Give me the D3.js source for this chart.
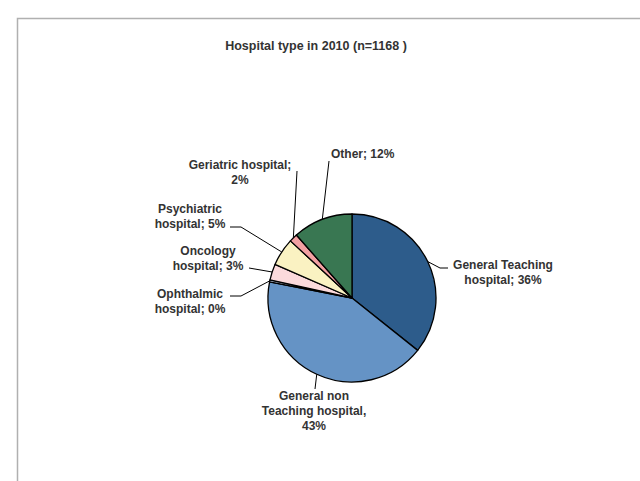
<!DOCTYPE html>
<html>
<head>
<meta charset="utf-8">
<script src="https://cdn.jsdelivr.net/npm/d3@7"></script>
<style>
  html, body { margin: 0; padding: 0; background: #ffffff; }
  svg { display: block; }
  text { font-family: "Liberation Sans", Arial, sans-serif; font-weight: bold; fill: #333333; }
</style>
</head>
<body>
<svg id="chart" width="640" height="481"></svg>
<script>
// ---- data ----
const categories = [
  "General Teaching hospital",
  "General non Teaching hospital",
  "Ophthalmic hospital",
  "Oncology hospital",
  "Psychiatric hospital",
  "Geriatric hospital",
  "Other"
];
const shares = [36.0, 42.7, 0.4, 3.1, 5.4, 1.6, 11.6];
const labelLines = [
  ["General Teaching", "hospital; 36%"],
  ["General non", "Teaching hospital,", "43%"],
  ["Ophthalmic", "hospital; 0%"],
  ["Oncology", "hospital; 3%"],
  ["Psychiatric", "hospital; 5%"],
  ["Geriatric hospital;", "2%"],
  ["Other; 12%"]
];
const title = "Hospital type in 2010 (n=1168 )";

// ---- styles / layout (kept separate from data) ----
const colors = ["#2d5c8b", "#6593c5", "#c8d6ea", "#fbdadc", "#faf2c2", "#f2a0a2", "#397752"];
const cx = 352, cy = 298, R = 84;
const labelLayout = [
  {x: 503, y: 269, anchor: "middle", pts: [[440, 268], [448, 268]]},
  {x: 314, y: 400, anchor: "middle", pts: [[315, 389]]},
  {x: 190, y: 298, anchor: "middle", pts: [[241, 296], [230, 296]]},
  {x: 208, y: 255, anchor: "middle", pts: [[249, 268]]},
  {x: 190, y: 213, anchor: "middle", pts: [[241, 227], [230, 227]]},
  {x: 240, y: 169, anchor: "middle", pts: [[297, 171]]},
  {x: 331, y: 158, anchor: "start",  pts: [[329, 161]]}
];

const svg = d3.select("#chart");

// frame
svg.append("path")
  .attr("d", "M17.5,481 V18.5 H640")
  .attr("fill", "none")
  .attr("stroke", "#b0b0b0")
  .attr("stroke-width", 1.5);

// title
svg.append("text")
  .attr("x", 316).attr("y", 50)
  .attr("text-anchor", "middle")
  .style("font-size", "12.5px")
  .text(title);

const data = categories.map((c, i) => ({name: c, value: shares[i], idx: i}));
const pie = d3.pie().value(d => d.value).sort(null);
const arcs = pie(data);
const arcGen = d3.arc().innerRadius(0).outerRadius(R);

const g = svg.append("g").attr("transform", `translate(${cx},${cy})`);
g.selectAll("path.slice")
  .data(arcs)
  .join("path")
  .attr("class", "slice")
  .attr("d", arcGen)
  .attr("fill", d => colors[d.data.idx])
  .attr("stroke", "#000")
  .attr("stroke-width", 1.3)
  .attr("stroke-linejoin", "round");

// leader lines
arcs.forEach((a, i) => {
  const mid = (a.startAngle + a.endAngle) / 2;
  const p0 = [cx + R * Math.sin(mid), cy - R * Math.cos(mid)];
  const pts = [p0].concat(labelLayout[i].pts);
  svg.append("path")
    .attr("d", d3.line()(pts))
    .attr("fill", "none")
    .attr("stroke", "#000")
    .attr("stroke-width", 1);
});

// labels
labelLines.forEach((lines, i) => {
  const L = labelLayout[i];
  const t = svg.append("text")
    .attr("text-anchor", L.anchor)
    .style("font-size", "12px");
  lines.forEach((s, j) => {
    t.append("tspan").attr("x", L.x).attr("y", L.y + j * 15).text(s);
  });
});
</script>
</body>
</html>
